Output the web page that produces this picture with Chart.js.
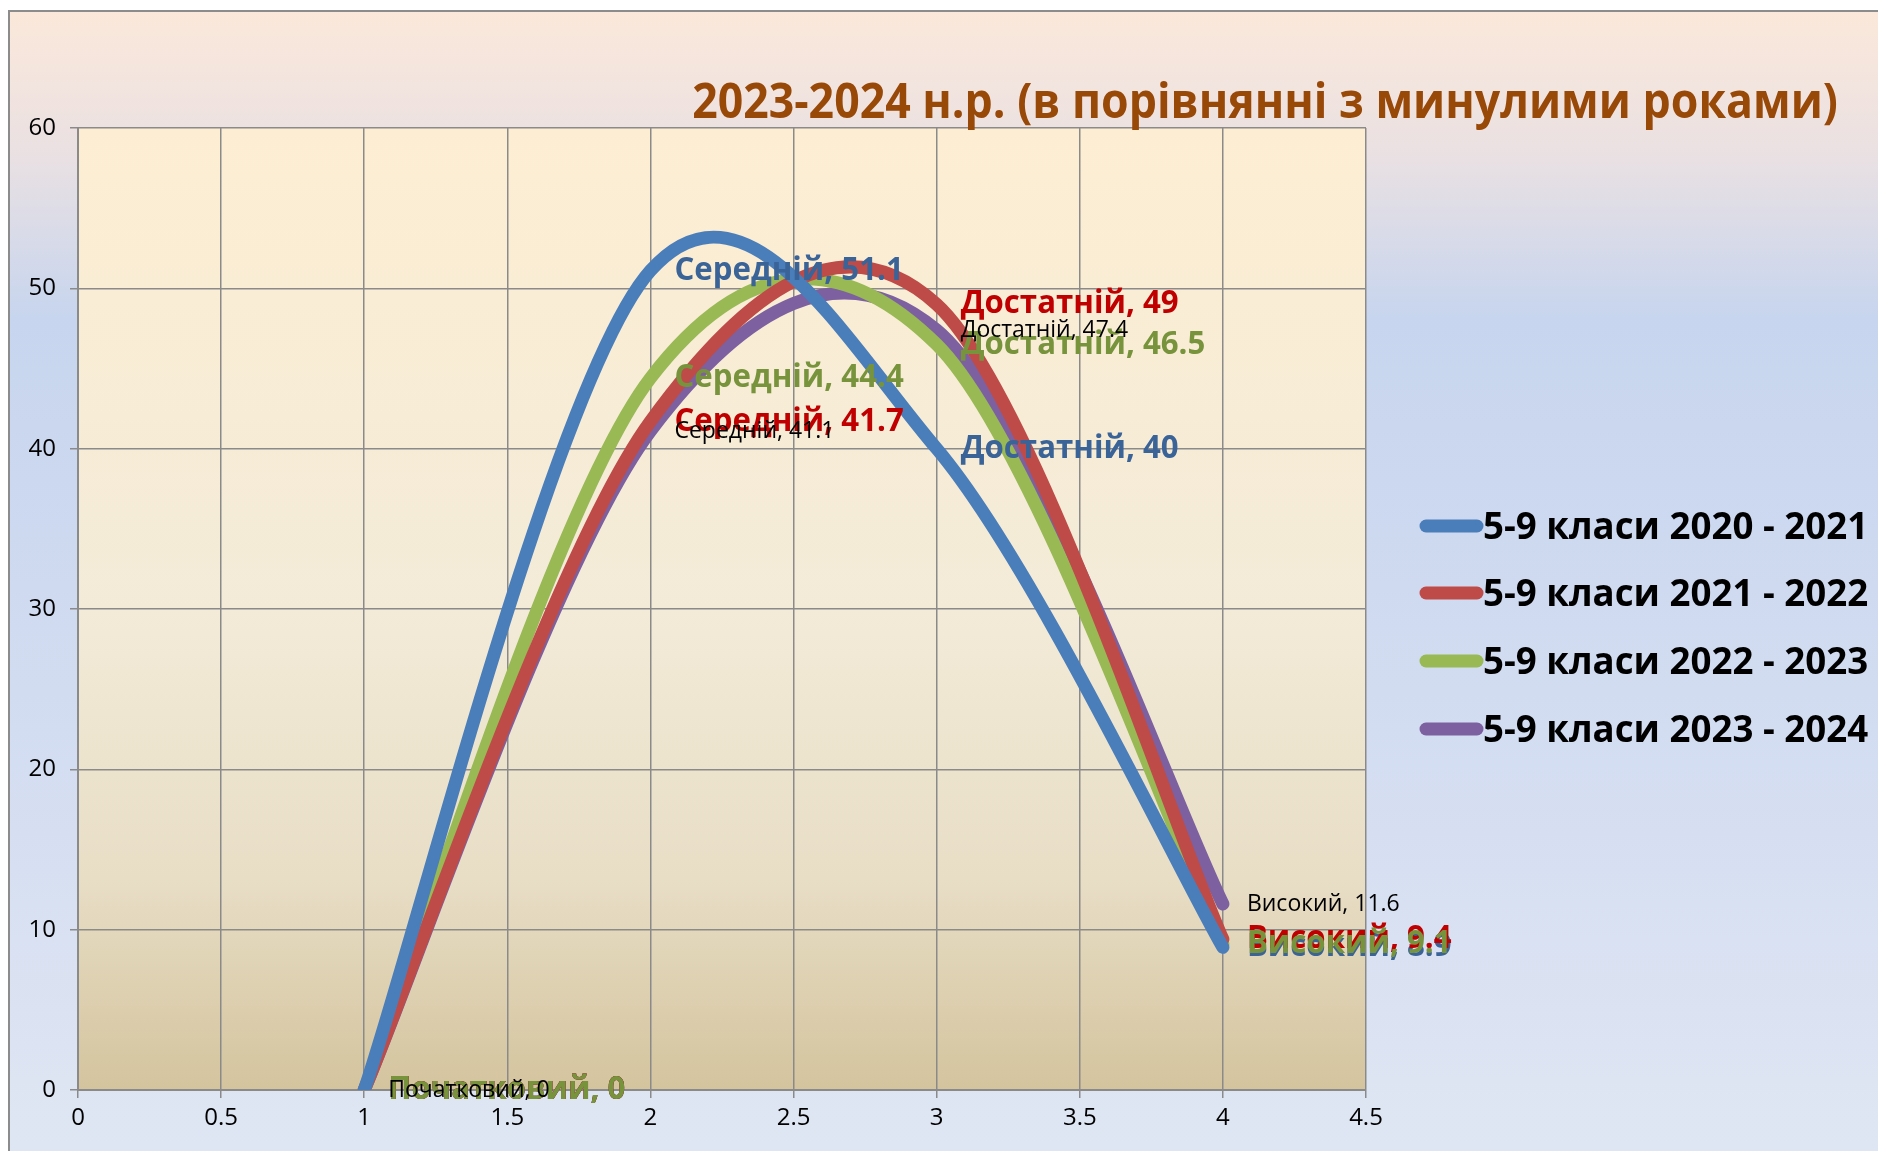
<!DOCTYPE html>
<html>
<head>
<meta charset="utf-8">
<script src="https://cdn.jsdelivr.net/npm/chart.js@4.4.0/dist/chart.umd.min.js"></script>
<style>
  html, body { margin: 0; padding: 0; background: #fff; }
  #wrap { width: 1878px; height: 1151px; }
</style>
</head>
<body>
<div id="wrap"><canvas id="chart"></canvas></div>
<script>
// Levels on the x axis (1..4) and their names for the point labels
const levels = ['Початковий', 'Середній', 'Достатній', 'Високий'];
const levelX = [1, 2, 3, 4];

const seriesNames = [
    '5-9 класи 2020 - 2021',
    '5-9 класи 2021 - 2022',
    '5-9 класи 2022 - 2023',
    '5-9 класи 2023 - 2024'
];
const values2021 = [0, 51.1, 40, 8.9];
const values2022 = [0, 41.7, 49, 9.4];
const values2023 = [0, 44.4, 46.5, 9.1];
const values2024 = [0, 41.1, 47.4, 11.6];

const xTicks = [0, 0.5, 1, 1.5, 2, 2.5, 3, 3.5, 4, 4.5];
const yTicks = [0, 10, 20, 30, 40, 50, 60];

const chartTitle = '2023-2024 н.р. (в порівнянні з минулими роками)';

// styles
const lineColors = ['#4a7ebb', '#be4b48', '#98b954', '#7d60a0'];
const labelStyles = [
    { color: '#3a6398', font: 'bold 32px "Open Sans"', squeeze: 0.975 },
    { color: '#c00000', font: 'bold 32px "Open Sans"', squeeze: 0.975 },
    { color: '#77933c', font: 'bold 32px "Open Sans"', squeeze: 0.975 },
    { color: '#000000', font: '23px "Open Sans"', squeeze: 1 }
];

function toPoints(vals) {
    return vals.map((v, i) => ({ x: levelX[i], y: v }));
}
const allValues = [values2021, values2022, values2023, values2024];

const backgroundPlugin = {
    id: 'bg',
    beforeDraw(chart) {
        const { ctx, width, height, chartArea: a } = chart;
        ctx.save();
        ctx.fillStyle = '#ffffff';
        ctx.fillRect(0, 0, width, height);
        const g = ctx.createLinearGradient(0, 10, 0, height);
        g.addColorStop(0, '#fbe8da');
        g.addColorStop(0.12, '#ebe1e2');
        g.addColorStop(0.27, '#c7d5ee');
        g.addColorStop(0.6, '#d2dcf1');
        g.addColorStop(1, '#dfe6f3');
        ctx.fillStyle = g;
        ctx.fillRect(9, 11, width - 9, height - 11);
        ctx.strokeStyle = '#8c8c8c';
        ctx.lineWidth = 2;
        ctx.beginPath();
        ctx.moveTo(9, height);
        ctx.lineTo(9, 11);
        ctx.lineTo(width, 11);
        ctx.stroke();

        const pg = ctx.createLinearGradient(0, a.top, 0, a.bottom);
        pg.addColorStop(0, '#fdeed3');
        pg.addColorStop(0.5, '#f3ebd8');
        pg.addColorStop(0.78, '#e8dec6');
        pg.addColorStop(1, '#d4c49e');
        ctx.fillStyle = pg;
        ctx.fillRect(a.left, a.top, a.right - a.left, a.bottom - a.top);
        ctx.restore();
    }
};

// Excel-like smoothing: bezier handles = 1/6 of the neighbour-to-neighbour vector
const smoothPlugin = {
    id: 'excelSmooth',
    beforeDatasetDraw(chart, args) {
        const line = args.meta.dataset;
        if (!line) return;
        line.updateControlPoints(chart.chartArea, 'x');
        const pts = line.points;
        const n = pts.length;
        for (let i = 0; i < n; i++) {
            const prev = pts[Math.max(i - 1, 0)];
            const next = pts[Math.min(i + 1, n - 1)];
            const dx = (next.x - prev.x) / 6;
            const dy = (next.y - prev.y) / 6;
            pts[i].cp1x = pts[i].x - dx;
            pts[i].cp1y = pts[i].y - dy;
            pts[i].cp2x = pts[i].x + dx;
            pts[i].cp2y = pts[i].y + dy;
        }
    }
};

function squeezedText(ctx, text, x, y, align, squeeze) {
    ctx.save();
    const w = ctx.measureText(text).width * squeeze;
    let left = x;
    if (align === 'right') left = x - w;
    ctx.translate(left, y);
    ctx.scale(squeeze, 1);
    ctx.textAlign = 'left';
    ctx.fillText(text, 0, 0);
    ctx.restore();
}

const pointLabelPlugin = {
    id: 'pointLabels',
    afterDatasetsDraw(chart) {
        const { ctx } = chart;
        chart.data.datasets.forEach((ds, i) => {
            const meta = chart.getDatasetMeta(i);
            const st = labelStyles[i];
            ctx.save();
            ctx.font = st.font;
            ctx.fillStyle = st.color;
            ctx.textBaseline = 'middle';
            meta.data.forEach((pt, j) => {
                const text = levels[j] + ', ' + allValues[i][j];
                squeezedText(ctx, text, pt.x + 24, pt.y, 'left', st.squeeze);
            });
            ctx.restore();
        });
    }
};

const titleLegendPlugin = {
    id: 'titleLegend',
    afterDraw(chart) {
        const { ctx } = chart;
        ctx.save();
        // title
        ctx.font = 'bold 48px "Open Sans"';
        ctx.fillStyle = '#984807';
        ctx.textBaseline = 'middle';
        squeezedText(ctx, chartTitle, 1838, 104, 'right', 0.93);

        // legend
        const rows = [526, 593, 661, 729];
        ctx.font = 'bold 38px "Open Sans"';
        seriesNames.forEach((name, i) => {
            ctx.strokeStyle = lineColors[i];
            ctx.lineWidth = 13;
            ctx.lineCap = 'round';
            ctx.beginPath();
            ctx.moveTo(1426, rows[i]);
            ctx.lineTo(1477, rows[i]);
            ctx.stroke();
            ctx.fillStyle = '#000';
            squeezedText(ctx, name, 1483, rows[i] + 2, 'left', 0.965);
        });
        ctx.restore();
    }
};

const datasets = allValues.map((vals, i) => ({
    label: seriesNames[i],
    data: toPoints(vals),
    showLine: true,
    borderColor: lineColors[i],
    backgroundColor: lineColors[i],
    borderWidth: 13,
    borderCapStyle: 'round',
    borderJoinStyle: 'round',
    tension: 0.4,
    pointRadius: 0,
    pointHoverRadius: 0
}));

new Chart(document.getElementById('chart'), {
    type: 'scatter',
    data: { datasets },
    options: {
        responsive: true,
        maintainAspectRatio: false,
        animation: false,
        layout: { padding: { left: 0, top: 128, right: 512, bottom: 0 } },
        plugins: {
            legend: { display: false },
            title: { display: false },
            tooltip: { enabled: false }
        },
        scales: {
            x: {
                type: 'linear',
                min: 0,
                max: 4.5,
                afterBuildTicks(scale) { scale.ticks = xTicks.map(v => ({ value: v })); },
                ticks: {
                    color: '#000',
                    font: { family: 'Open Sans', size: 24 },
                    padding: 6,
                    callback: v => String(v),
                    maxRotation: 0,
                    autoSkip: false
                },
                grid: { color: '#8a8a8a', lineWidth: 1.5, tickLength: 8 },
                border: { color: '#8a8a8a', width: 2 },
                afterFit(scale) { scale.height = 61; }
            },
            y: {
                type: 'linear',
                min: 0,
                max: 60,
                afterBuildTicks(scale) { scale.ticks = yTicks.map(v => ({ value: v })); },
                ticks: {
                    color: '#000',
                    font: { family: 'Open Sans', size: 24 },
                    padding: 14,
                    callback: v => String(v)
                },
                grid: { color: '#8a8a8a', lineWidth: 1.5, tickLength: 8 },
                border: { color: '#8a8a8a', width: 2 },
                afterFit(scale) { scale.width = 78; }
            }
        }
    },
    plugins: [backgroundPlugin, smoothPlugin, pointLabelPlugin, titleLegendPlugin]
});
</script>
</body>
</html>
